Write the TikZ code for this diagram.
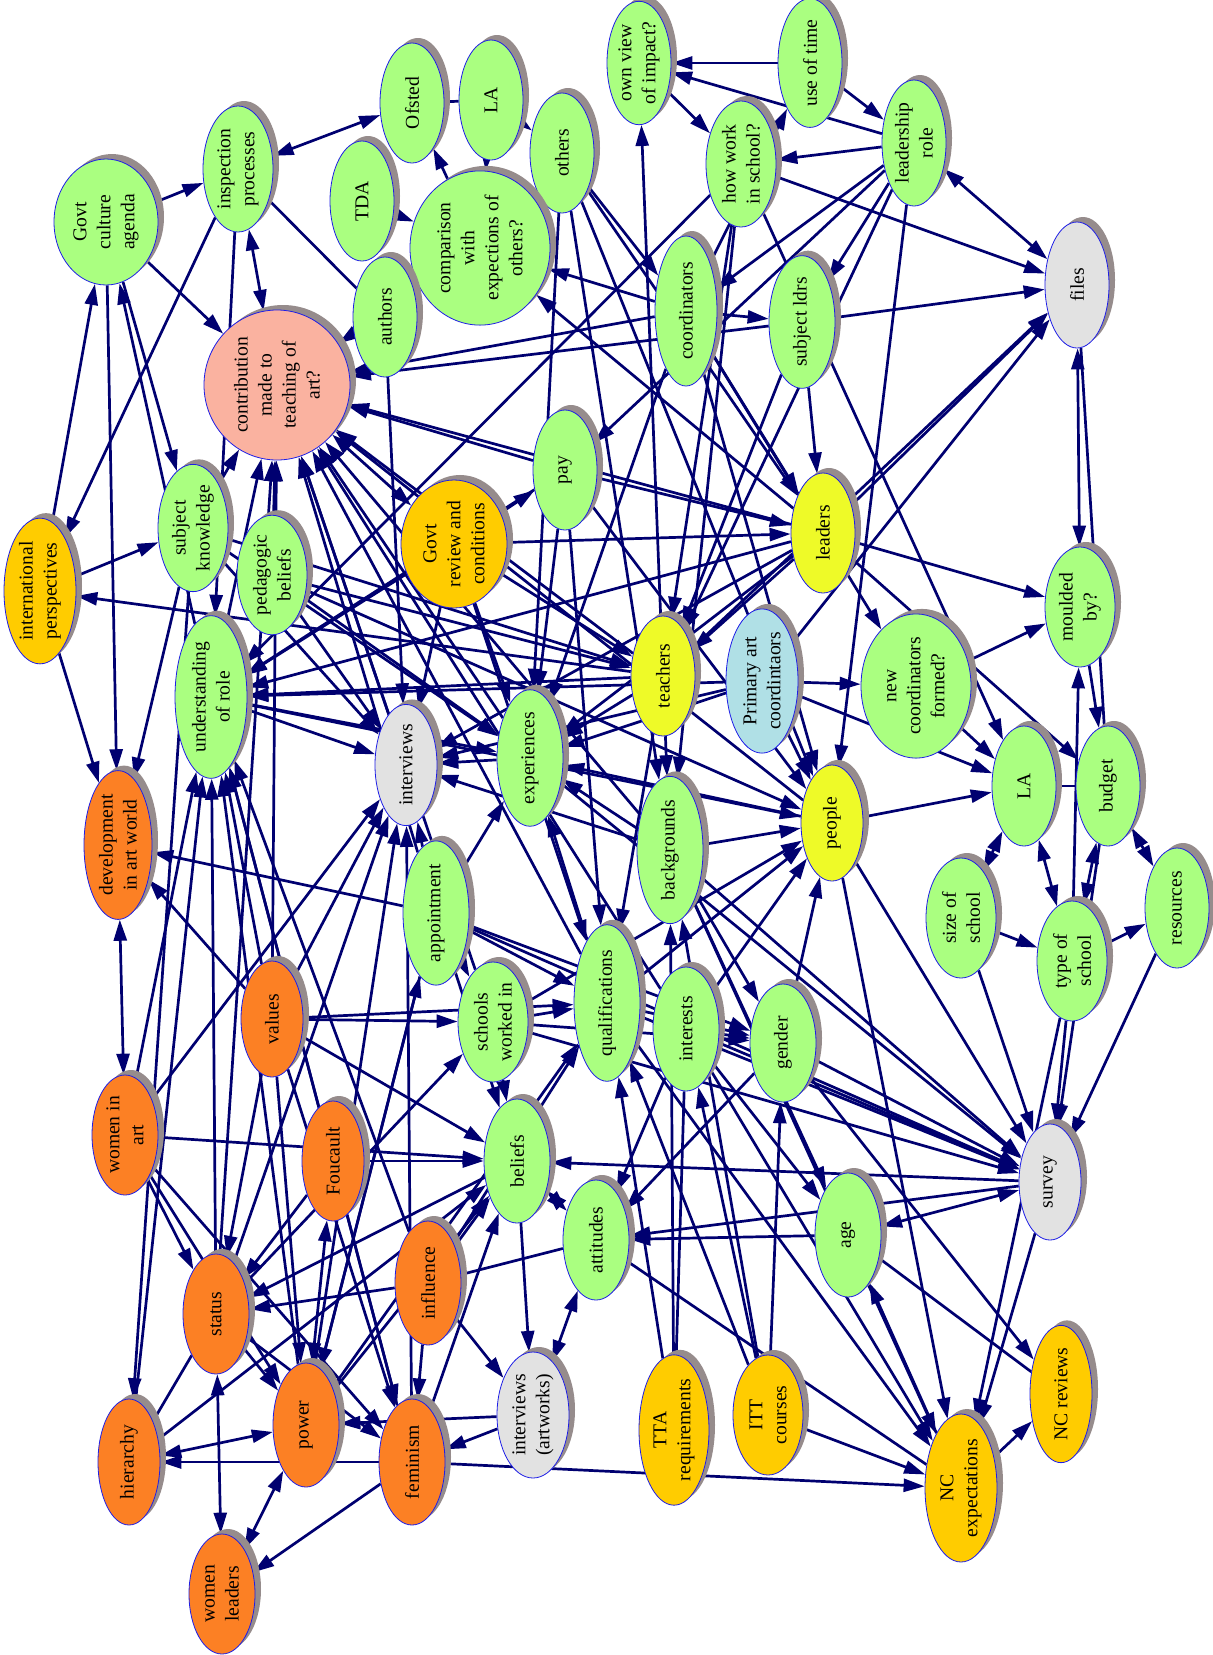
\documentclass[tikz,border=0pt]{standalone}
\usepackage{fontspec}
\setmainfont{Liberation Serif}
\usetikzlibrary{shapes.geometric,arrows.meta,shadows,backgrounds}
\definecolor{nodegreen}{RGB}{170,255,128}
\definecolor{nodeorange}{RGB}{252,128,36}
\definecolor{nodegold}{RGB}{255,204,0}
\definecolor{nodeyellow}{RGB}{238,250,40}
\definecolor{nodegray}{RGB}{226,226,226}
\definecolor{nodeblue}{RGB}{176,224,230}
\definecolor{nodepink}{RGB}{250,178,160}
\definecolor{rimblue}{RGB}{30,30,230}
\definecolor{shadowgray}{RGB}{150,140,140}
\definecolor{edgenavy}{RGB}{0,0,112}

\tikzset{
  bub/.style={ellipse, draw=rimblue, line width=0.4pt, rotate=90, align=center,
    inner sep=1pt, minimum width=60pt, minimum height=32pt,
    font=\fontsize{9.8}{12}\selectfont,
    drop shadow={shadow xshift=3pt, shadow yshift=2.5pt, fill=shadowgray, opacity=1}},
  grn/.style={bub, fill=nodegreen},
  org/.style={bub, fill=nodeorange},
  gld/.style={bub, fill=nodegold},
  ylw/.style={bub, fill=nodeyellow},
  gry/.style={bub, fill=nodegray},
  blu/.style={bub, fill=nodeblue},
  pnk/.style={bub, fill=nodepink},
  arr/.style={draw=edgenavy, line width=1.35pt, -{Triangle[length=10.5pt,width=6.5pt]}},
  arrb/.style={draw=edgenavy, line width=1.35pt, {Triangle[length=10.5pt,width=6.5pt]}-{Triangle[length=10.5pt,width=6.5pt]}},
  arrn/.style={draw=edgenavy, line width=1.35pt}
}

\begin{document}
\begin{tikzpicture}[x=0.5pt,y=-0.5pt]
\useasboundingbox (0,0) rectangle (1213,1655);

% top row
\node[grn] (ownview) at (639,63) {own view\\of impact?};
\node[grn] (usetime) at (810,63) {use of time};
\node[grn] (latop) at (491,100) {LA};
\node[grn] (ofsted) at (412,103) {Ofsted};
\node[grn] (others) at (562,153) {others};
\node[grn, minimum width=63pt] (leadrole) at (914,143) {leadership\\role};
\node[grn, minimum width=63pt, minimum height=35pt] (inspect) at (238,169) {inspection\\processes};
\node[grn, minimum width=63pt, minimum height=35pt] (howwork) at (741,164) {how work\\in school?};
\node[grn, minimum width=63pt, minimum height=52pt] (govtcult) at (106,222) {Govt\\culture\\agenda};
\node[grn] (tda) at (362,201) {TDA};
\node[grn, minimum width=72pt, minimum height=70pt] (compar) at (480,248) {comparison\\with\\expections of\\others?};
\node[gry, minimum width=63pt] (files) at (1077,285) {files};
\node[grn] (authors) at (385,317) {authors};
\node[grn, minimum width=75pt, minimum height=31pt] (coords) at (686,311) {coordinators};
\node[grn, minimum width=64pt, minimum height=33pt] (subjldrs) at (802,322) {subject ldrs};
\node[pnk, minimum width=75pt, minimum height=73pt] (contrib) at (277,385) {contribution\\made to\\teaching of\\art?};

% middle band
\node[grn] (pay) at (565,470) {pay};
\node[ylw] (leaders) at (823,533) {leaders};
\node[gld, minimum width=58pt, minimum height=53pt] (govtrev) at (454,544) {Govt\\review and\\conditions};
\node[grn, minimum height=35pt] (subjknow) at (193,528) {subject\\knowledge};
\node[gld, minimum width=70pt, minimum height=36pt] (intl) at (40,591) {international\\perspectives};
\node[grn, minimum width=58pt, minimum height=35pt] (pedag) at (272,575) {pedagogic\\beliefs};
\node[grn, minimum height=35pt] (moulded) at (1080,607) {moulded\\by?};
\node[ylw] (teachers) at (663,676) {teachers};
\node[blu, minimum width=67pt, minimum height=36pt] (pac) at (762,681) {Primary art\\coordintaors};
\node[grn, minimum width=67pt, minimum height=55pt] (newcoord) at (916,686) {new\\coordinators\\formed?};
\node[grn, minimum width=72pt, minimum height=36pt] (underst) at (211,697) {understanding\\of role};
\node[gry, minimum width=58pt, minimum height=31pt] (interv) at (406,765) {interviews};
\node[grn, minimum width=63pt, minimum height=33pt] (exper) at (530,758) {experiences};
\node[grn] (laright) at (1024,786) {LA};
\node[grn] (budget) at (1108,786) {budget};
\node[ylw, minimum width=58pt, minimum height=31pt] (people) at (832,823) {people};
\node[org, minimum width=68pt, minimum height=34pt] (devart) at (118,845) {development\\in art world};
\node[grn, minimum width=68pt, minimum height=33pt] (backgr) at (670,850) {backgrounds};
\node[grn] (resources) at (1177,908) {resources};
\node[grn, minimum height=35pt] (sizesch) at (961,918) {size of\\school};
\node[grn, minimum width=68pt, minimum height=33pt] (appoint) at (436,913) {appointment};
\node[grn, minimum height=35pt] (typesch) at (1072,961) {type of\\school};

% lower band
\node[org, minimum width=58pt, minimum height=31pt] (values) at (272,1019) {values};
\node[grn, minimum height=35pt] (schools) at (493,1022) {schools\\worked in};
\node[grn, minimum width=72pt, minimum height=33pt] (qualif) at (607,1003) {qualifications};
\node[grn, minimum width=62pt, minimum height=33pt] (interests) at (686,1029) {interests};
\node[grn, minimum width=59pt, minimum height=33pt] (gender) at (783,1043) {gender};
\node[org, minimum height=33pt] (womenart) at (125,1135) {women in\\art};
\node[org, minimum height=31pt] (foucault) at (333,1161) {Foucault};
\node[grn, minimum width=62pt, minimum height=33pt] (beliefs) at (517,1161) {beliefs};
\node[gry, minimum width=58pt, minimum height=31pt] (survey) at (1050,1182) {survey};
\node[grn, minimum width=62pt, minimum height=33pt] (age) at (848,1235) {age};
\node[grn, minimum height=33pt] (attitudes) at (596,1240) {attitudes};
\node[org, minimum width=62pt, minimum height=33pt] (influence) at (428,1283) {influence};
\node[org, minimum height=33pt] (status) at (216,1314) {status};
\node[gry, minimum width=63pt, minimum height=36pt] (intart) at (533,1415) {interviews\\(artworks)};
\node[gld, minimum width=75pt, minimum height=35pt] (tta) at (674,1430) {TTA\\requirements};
\node[gld, minimum height=35pt] (itt) at (768,1415) {ITT\\courses};
\node[org, minimum width=63pt, minimum height=31pt] (hierarchy) at (129,1462) {hierarchy};
\node[org, minimum width=62pt, minimum height=33pt] (power) at (306,1425) {power};
\node[org, minimum width=63pt, minimum height=33pt] (feminism) at (412,1462) {feminism};
\node[gld, minimum height=31pt] (ncrev) at (1061,1394) {NC reviews};
\node[gld, minimum width=74pt, minimum height=36pt] (ncexp) at (961,1488) {NC\\expectations};
\node[org, minimum height=33pt] (womenlead) at (222,1594) {women\\leaders};

\begin{scope}[on background layer]
% top left
\draw[arr] (govtcult) -- (inspect);
\draw[arrb] (inspect) -- (ofsted);
\draw[arrb] (inspect) -- (contrib);
\draw[arrn] (inspect) -- (authors);
\draw[arr] (govtcult) -- (contrib);
\draw[arr] (govtcult) -- (subjknow);
\draw[arr] (underst) -- (govtcult);
\draw[arr] (intl) -- (govtcult);
\draw[arr] (govtcult) -- (devart);
\draw[arr] (inspect) -- (intl);
\draw[arr] (inspect) -- (underst);
\draw[arr] (compar) -- (ofsted);
\draw[arrb] (latop) -- (compar);
\draw[arrb] (latop) -- (others);
\draw[arrn] (ofsted) -- (latop);
\draw[arr] (tda) -- (compar);
\draw[arr] (authors) -- (compar);
\draw[arrb] (contrib) -- (compar);
\draw[arr] (others) -- (coords);
\draw[arr] (others) -- (leaders);
\draw[arr] (others) -- (people);
\draw[arr] (others) -- (backgr);
\draw[arr] (others) -- (exper);
\draw[arr] (leaders) -- (compar);
\draw[arr] (coords) -- (compar);
\draw[arr] (subjknow) -- (contrib);
\draw[arr] (pedag) -- (contrib);
\draw[arr] (underst) -- (contrib);
\draw[arr] (values) -- (contrib);
\draw[arr] (status) -- (contrib);
\draw[arr] (interv) -- (contrib);
\draw[arr] (pay) -- (contrib);
\draw[arrb] (govtrev) -- (contrib);
\draw[arr] (teachers) -- (contrib);
\draw[arr] (leaders) -- (contrib);
\draw[arr] (exper) -- (contrib);
\draw[arr] (backgr) -- (contrib);
\draw[arr] (qualif) -- (contrib);
\draw[arr] (people) -- (contrib);
\draw[arr] (coords) -- (contrib);
\draw[arr] (subjldrs) -- (contrib);
\draw[arr] (interests) -- (contrib);
\draw[arr] (schools) -- (contrib);
\draw[arr] (appoint) -- (contrib);
\draw[arr] (authors) -- (interv);
% top right
\draw[arr] (usetime) -- (ownview);
\draw[arr] (leadrole) -- (ownview);
\draw[arr] (ownview) -- (howwork);
\draw[arr] (teachers) -- (ownview);
\draw[arr] (coords) -- (usetime);
\draw[arr] (usetime) -- (leadrole);
\draw[arrb] (leadrole) -- (files);
\draw[arr] (howwork) -- (files);
\draw[arr] (leadrole) -- (howwork);
\draw[arr] (leadrole) -- (subjldrs);
\draw[arr] (leadrole) -- (coords);
\draw[arr] (leadrole) -- (teachers);
\draw[arr] (leadrole) -- (pay);
\draw[arr] (leadrole) -- (people);
\draw[arr] (subjldrs) -- (files);
\draw[arr] (subjldrs) -- (leaders);
\draw[arr] (subjldrs) -- (teachers);
\draw[arr] (coords) -- (subjldrs);
\draw[arr] (coords) -- (leaders);
\draw[arr] (coords) -- (newcoord);
\draw[arr] (coords) -- (people);
\draw[arr] (coords) -- (exper);
\draw[arr] (leaders) -- (files);
\draw[arr] (teachers) -- (files);
\draw[arr] (pac) -- (files);
\draw[arrb] (files) -- (moulded);
\draw[arrn] (files) -- (budget);
\draw[arr] (howwork) -- (laright);
\draw[arr] (howwork) -- (backgr);
\draw[arr] (howwork) -- (underst);
\draw[arr] (howwork) -- (teachers);
% middle right
\draw[arr] (pac) -- (newcoord);
\draw[arr] (pac) -- (people);
\draw[arr] (pac) -- (laright);
\draw[arr] (people) -- (laright);
\draw[arr] (newcoord) -- (laright);
\draw[arr] (newcoord) -- (moulded);
\draw[arr] (leaders) -- (moulded);
\draw[arrb] (laright) -- (typesch);
\draw[arrb] (sizesch) -- (laright);
\draw[arr] (sizesch) -- (typesch);
\draw[arrb] (budget) -- (typesch);
\draw[arrb] (budget) -- (resources);
\draw[arr] (typesch) -- (resources);
\draw[arr] (typesch) -- (moulded);
\draw[arr] (moulded) -- (budget);
\draw[arrn] (laright) -- (budget);
\draw[arr] (budget) -- (survey);
\draw[arr] (typesch) -- (ncexp);
\draw[arr] (typesch) -- (survey);
\draw[arr] (sizesch) -- (survey);
\draw[arr] (resources) -- (survey);
\draw[arr] (leaders) -- (budget);
\draw[arr] (people) -- (survey);
\draw[arr] (people) -- (ncexp);
\draw[arr] (people) -- (exper);
\draw[arr] (pac) -- (exper);
\draw[arr] (pac) -- (underst);
\draw[arr] (pac) -- (interv);
\draw[arr] (teachers) -- (underst);
\draw[arr] (teachers) -- (intl);
\draw[arr] (teachers) -- (exper);
\draw[arr] (teachers) -- (qualif);
\draw[arr] (teachers) -- (backgr);
\draw[arr] (backgr) -- (people);
\draw[arr] (qualif) -- (people);
\draw[arr] (interests) -- (people);
\draw[arr] (gender) -- (people);
\draw[arr] (schools) -- (people);
% survey
\draw[arr] (gender) -- (survey);
\draw[arr] (interests) -- (survey);
\draw[arr] (qualif) -- (survey);
\draw[arr] (backgr) -- (survey);
\draw[arr] (exper) -- (survey);
\draw[arr] (appoint) -- (survey);
\draw[arr] (schools) -- (survey);
\draw[arr] (survey) -- (beliefs);
\draw[arrb] (survey) -- (age);
\draw[arr] (survey) -- (ncexp);
\draw[arr] (age) -- (attitudes);
\draw[arr] (survey) -- (attitudes);
% bottom right
\draw[arr] (gender) -- (ncrev);
\draw[arrn] (age) -- (ncrev);
\draw[arr] (ncexp) -- (ncrev);
\draw[arr] (ncexp) -- (age);
\draw[arr] (itt) -- (ncexp);
\draw[arr] (feminism) -- (ncexp);
\draw[arrn] (attitudes) -- (ncexp);
\draw[arr] (interests) -- (ncexp);
\draw[arr] (qualif) -- (ncexp);
\draw[arr] (backgr) -- (ncexp);
\draw[arr] (interests) -- (age);
\draw[arr] (backgr) -- (age);
\draw[arr] (tta) -- (qualif);
\draw[arr] (tta) -- (backgr);
\draw[arr] (itt) -- (interests);
\draw[arr] (itt) -- (qualif);
\draw[arr] (itt) -- (backgr);
\draw[arr] (itt) -- (gender);
\draw[arrn] (tta) -- (interests);
\draw[arr] (gender) -- (attitudes);
\draw[arr] (interests) -- (attitudes);
\draw[arrb] (attitudes) -- (intart);
% left
\draw[arrb] (devart) -- (womenart);
\draw[arr] (subjknow) -- (hierarchy);
\draw[arrb] (hierarchy) -- (power);
\draw[arr] (feminism) -- (hierarchy);
\draw[arrb] (status) -- (womenlead);
\draw[arrb] (power) -- (womenlead);
\draw[arr] (feminism) -- (womenlead);
\draw[arr] (influence) -- (feminism);
\draw[arr] (influence) -- (status);
\draw[arr] (foucault) -- (status);
\draw[arr] (beliefs) -- (status);
\draw[arr] (values) -- (status);
\draw[arr] (status) -- (power);
\draw[arr] (intart) -- (feminism);
\draw[arr] (intart) -- (power);
\draw[arr] (beliefs) -- (intart);
\draw[arrb] (beliefs) -- (attitudes);
\draw[arr] (influence) -- (intart);
\draw[arrb] (foucault) -- (power);
\draw[arr] (womenart) -- (status);
\draw[arr] (womenart) -- (power);
\draw[arr] (womenart) -- (feminism);
\draw[arr] (womenart) -- (beliefs);
\draw[arr] (womenart) -- (interv);
\draw[arr] (values) -- (beliefs);
\draw[arr] (values) -- (devart);
\draw[arr] (appoint) -- (devart);
\draw[arr] (values) -- (interv);
\draw[arr] (values) -- (underst);
\draw[arr] (status) -- (underst);
\draw[arr] (power) -- (underst);
\draw[arr] (hierarchy) -- (underst);
\draw[arr] (feminism) -- (underst);
\draw[arr] (womenart) -- (underst);
\draw[arr] (influence) -- (underst);
\draw[arr] (foucault) -- (underst);
\draw[arr] (appoint) -- (interv);
\draw[arr] (exper) -- (interv);
\draw[arr] (backgr) -- (interv);
\draw[arr] (pedag) -- (interv);
\draw[arr] (subjknow) -- (interv);
\draw[arr] (underst) -- (interv);
\draw[arr] (leaders) -- (interv);
\draw[arr] (intl) -- (devart);
\draw[arr] (subjknow) -- (devart);
\draw[arr] (appoint) -- (exper);
\draw[arr] (qualif) -- (exper);
\draw[arr] (backgr) -- (exper);
\draw[arr] (pedag) -- (exper);
\draw[arr] (subjknow) -- (exper);
\draw[arr] (underst) -- (exper);
\draw[arr] (schools) -- (qualif);
\draw[arr] (appoint) -- (qualif);
\draw[arr] (appoint) -- (schools);
\draw[arr] (appoint) -- (beliefs);
\draw[arr] (appoint) -- (gender);
\draw[arr] (schools) -- (beliefs);
\draw[arr] (schools) -- (gender);
\draw[arr] (qualif) -- (gender);
\draw[arr] (interests) -- (gender);
\draw[arr] (backgr) -- (gender);
\draw[arr] (govtrev) -- (pay);
\draw[arr] (govtrev) -- (teachers);
\draw[arr] (govtrev) -- (leaders);
\draw[arr] (govtrev) -- (exper);
\draw[arr] (govtrev) -- (interv);
\draw[arr] (govtrev) -- (underst);
\draw[arr] (pay) -- (leaders);
\draw[arr] (pay) -- (people);
\draw[arr] (pay) -- (qualif);
\draw[arr] (subjknow) -- (teachers);
\draw[arr] (pedag) -- (teachers);
\draw[arr] (intl) -- (subjknow);
\draw[arr] (status) -- (interv);
\draw[arr] (status) -- (schools);
\draw[arr] (power) -- (interv);
\draw[arr] (feminism) -- (interv);
\draw[arr] (power) -- (appoint);
\draw[arr] (power) -- (qualif);
\draw[arr] (influence) -- (beliefs);
\draw[arr] (influence) -- (qualif);
\draw[arr] (foucault) -- (beliefs);
\draw[arr] (power) -- (beliefs);
\draw[arr] (hierarchy) -- (beliefs);
\draw[arr] (feminism) -- (beliefs);
\draw[arr] (values) -- (qualif);
\draw[arr] (values) -- (schools);
\draw[arr] (foucault) -- (feminism);
\draw[arr] (status) -- (feminism);
\draw[arrn] (attitudes) -- (influence);
\draw[arrn] (hierarchy) -- (status);
\draw[arr] (values) -- (power);
\draw[arr] (values) -- (feminism);
\draw[arr] (appoint) -- (power);
\draw[arr] (pay) -- (exper);
\draw[arr] (pedag) -- (people);
\draw[arr] (underst) -- (people);
\draw[arr] (govtrev) -- (qualif);
\draw[arr] (pay) -- (underst);
\draw[arr] (leaders) -- (underst);
\draw[arr] (leaders) -- (teachers);
\draw[arr] (leaders) -- (exper);
\end{scope}
\end{tikzpicture}
\end{document}
